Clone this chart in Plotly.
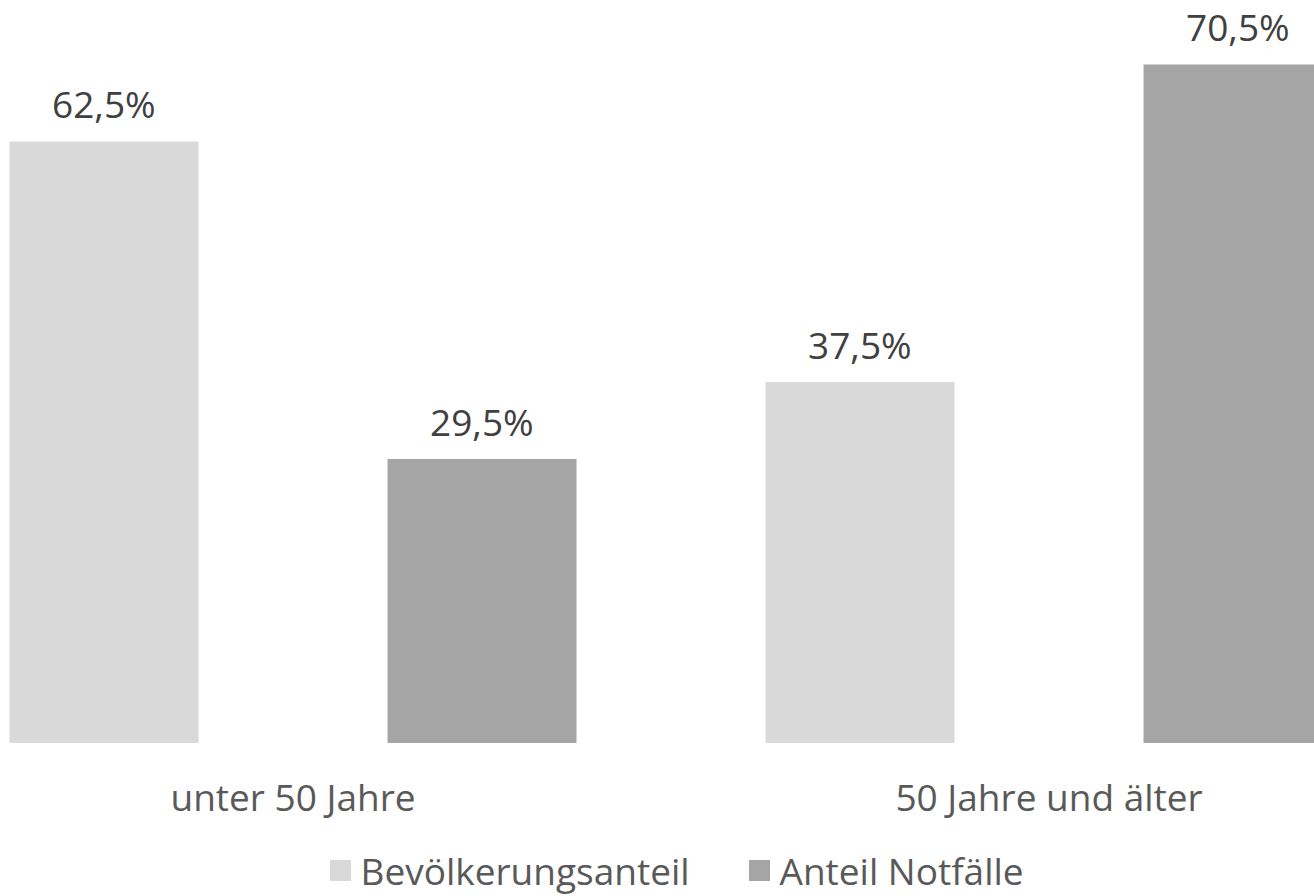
import plotly.graph_objects as go

categories = ["unter 50 Jahre", "50 Jahre und älter"]
bevoelkerung = [62.5, 37.5]
notfaelle = [29.5, 70.5]
series_names = ["Bevölkerungsanteil", "Anteil Notfälle"]
colors = ["#d9d9d9", "#a5a5a5"]

FONT = "Open Sans"
xpos = list(range(len(categories)))

fig = go.Figure()
for name, vals, col in zip(series_names, [bevoelkerung, notfaelle], colors):
    fig.add_trace(go.Bar(x=xpos, y=vals, name=name, marker=dict(color=col, line=dict(width=0)),
                         showlegend=False, hoverinfo="skip"))
    # legend proxies with larger square symbols
    fig.add_trace(go.Scatter(x=[None], y=[None], mode="markers", name=name,
                             marker=dict(symbol="square", size=16, color=col,
                                         line=dict(color=col, width=5))))

# value labels
offsets = [-0.25, 0.25]
for vals, off in zip([bevoelkerung, notfaelle], offsets):
    for i, v in enumerate(vals):
        fig.add_annotation(x=i + off, y=v, text=f"{v:.1f}".replace(".", ",") + "%",
                           showarrow=False, yanchor="bottom", yshift=11, borderpad=0,
                           font=dict(family=FONT, size=37, color="#404040"))

fig.update_layout(
    width=1314, height=896,
    margin=dict(l=0, r=0, t=0, b=153, autoexpand=False),
    paper_bgcolor="white", plot_bgcolor="white",
    barmode="group", bargap=0, bargroupgap=0.5,
    font=dict(family=FONT, size=37, color="#595959"),
    xaxis=dict(range=[-0.3876, 1.3505], tickvals=xpos, ticktext=categories,
               showgrid=False, zeroline=False, showline=False, ticks="",
               ticklabelstandoff=30, tickfont=dict(family=FONT, size=37, color="#595959")),
    yaxis=dict(range=[0, 77.2], visible=False, showgrid=False, zeroline=False),
    legend=dict(orientation="h", x=0.2439, xanchor="left", y=-0.1723, yanchor="middle",
                font=dict(family=FONT, size=37, color="#595959"),
                itemsizing="trace", itemwidth=30, tracegroupgap=0,
                entrywidth=374),
    showlegend=True,
)

fig.write_html(
    "out.html",
    config={"displayModeBar": False},
    post_script="document.body.style.margin='0';document.body.style.overflow='hidden';",
)
